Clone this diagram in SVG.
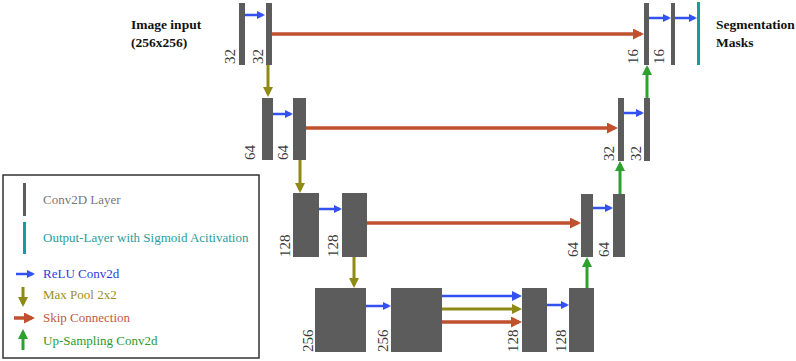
<svg xmlns="http://www.w3.org/2000/svg" width="796" height="361" viewBox="0 0 796 361">
<style>
.bar{fill:#5c5c5c}
.teal{fill:#159c9c}
.num{font-family:"Liberation Serif",serif;font-size:15px;fill:#3a3a3a}
.title{font-family:"Liberation Serif",serif;font-size:13.5px;font-weight:bold;fill:#111}
.leg{font-family:"Liberation Serif",serif;font-size:13px}
.c-blue{stroke:#3350f0;stroke-width:2.5;fill:none}
.c-olive{stroke:#8f8a14;stroke-width:3;fill:none}
.c-red{stroke:#c0502e;stroke-width:3.5;fill:none}
.c-green{stroke:#2ea02e;stroke-width:3;fill:none}
</style>
<defs>
<marker id="mb" viewBox="0 0 8 8" refX="6" refY="4" markerWidth="8" markerHeight="8" markerUnits="userSpaceOnUse" orient="auto"><path d="M0,0L8,4L0,8z" fill="#3350f0"/></marker>
<marker id="mbL" viewBox="0 0 10 10" refX="7" refY="5" markerWidth="10" markerHeight="10" markerUnits="userSpaceOnUse" orient="auto"><path d="M0,0L10,5L0,10z" fill="#3350f0"/></marker>
<marker id="mo" viewBox="0 0 10 10" refX="7" refY="5" markerWidth="10" markerHeight="10" markerUnits="userSpaceOnUse" orient="auto"><path d="M0,0L10,5L0,10z" fill="#8f8a14"/></marker>
<marker id="mr" viewBox="0 0 11 11" refX="8" refY="5.5" markerWidth="11" markerHeight="11" markerUnits="userSpaceOnUse" orient="auto"><path d="M0,0L11,5.5L0,11z" fill="#c0502e"/></marker>
<marker id="mg" viewBox="0 0 10 10" refX="7" refY="5" markerWidth="10" markerHeight="10" markerUnits="userSpaceOnUse" orient="auto"><path d="M0,0L10,5L0,10z" fill="#2ea02e"/></marker>
</defs>
<rect width="796" height="361" fill="#fff"/>

<g id="titles">
<text class="title" x="131" y="29">Image input</text>
<text class="title" x="131" y="47">(256x256)</text>
<text class="title" x="716" y="29">Segmentation</text>
<text class="title" x="716" y="47">Masks</text>
</g>

<g id="enc1">
<rect class="bar" x="239" y="3" width="6" height="62"/>
<rect class="bar" x="266" y="3" width="6" height="62"/>
<text class="num" transform="translate(235,64) rotate(-90)">32</text>
<text class="num" transform="translate(263,64) rotate(-90)">32</text>
</g>
<g id="dec1">
<rect class="bar" x="644" y="3" width="5" height="62"/>
<rect class="bar" x="671" y="3" width="4" height="62"/>
<rect class="teal" x="697" y="2" width="3" height="63"/>
<text class="num" transform="translate(638,64) rotate(-90)">16</text>
<text class="num" transform="translate(664,64) rotate(-90)">16</text>
</g>
<g id="enc2">
<rect class="bar" x="262" y="98" width="11" height="62"/>
<rect class="bar" x="293" y="98" width="13" height="62"/>
<text class="num" transform="translate(255,160) rotate(-90)">64</text>
<text class="num" transform="translate(288,160) rotate(-90)">64</text>
</g>
<g id="dec2">
<rect class="bar" x="618" y="98" width="6" height="63"/>
<rect class="bar" x="644" y="98" width="6" height="63"/>
<text class="num" transform="translate(614,161) rotate(-90)">32</text>
<text class="num" transform="translate(641,161) rotate(-90)">32</text>
</g>
<g id="enc3">
<rect class="bar" x="293" y="193" width="26" height="64"/>
<rect class="bar" x="342" y="193" width="25" height="64"/>
<text class="num" transform="translate(290,257) rotate(-90)">128</text>
<text class="num" transform="translate(338,257) rotate(-90)">128</text>
</g>
<g id="dec3">
<rect class="bar" x="581" y="194" width="12" height="63"/>
<rect class="bar" x="613" y="194" width="12" height="63"/>
<text class="num" transform="translate(578,257) rotate(-90)">64</text>
<text class="num" transform="translate(609,257) rotate(-90)">64</text>
</g>
<g id="bottleneck">
<rect class="bar" x="315" y="288" width="51" height="64"/>
<rect class="bar" x="391" y="288" width="51" height="64"/>
<text class="num" transform="translate(313,352) rotate(-90)">256</text>
<text class="num" transform="translate(388,352) rotate(-90)">256</text>
</g>
<g id="dec4">
<rect class="bar" x="522" y="288" width="25" height="64"/>
<rect class="bar" x="569" y="288" width="25" height="64"/>
<text class="num" transform="translate(518,352) rotate(-90)">128</text>
<text class="num" transform="translate(566,352) rotate(-90)">128</text>
</g>

<g id="connectors">
<line class="c-blue" x1="245" y1="15" x2="263" y2="15" marker-end="url(#mb)"/>
<line class="c-blue" x1="649" y1="18" x2="669" y2="18" marker-end="url(#mb)"/>
<line class="c-blue" x1="675" y1="18" x2="695" y2="18" marker-end="url(#mb)"/>
<line class="c-blue" x1="273" y1="114" x2="291" y2="114" marker-end="url(#mb)"/>
<line class="c-blue" x1="624" y1="113" x2="642" y2="113" marker-end="url(#mb)"/>
<line class="c-blue" x1="319" y1="209" x2="340" y2="209" marker-end="url(#mb)"/>
<line class="c-blue" x1="593" y1="208" x2="611" y2="208" marker-end="url(#mb)"/>
<line class="c-blue" x1="366" y1="306" x2="389" y2="306" marker-end="url(#mb)"/>
<line class="c-blue" x1="547" y1="305" x2="567" y2="305" marker-end="url(#mb)"/>
<line class="c-blue" x1="442" y1="296" x2="519" y2="296" marker-end="url(#mbL)"/>
<line class="c-olive" x1="442" y1="309" x2="519" y2="309" marker-end="url(#mo)"/>
<line class="c-red" x1="442" y1="322" x2="519" y2="322" marker-end="url(#mr)"/>
<line class="c-red" x1="272" y1="34" x2="641" y2="34" marker-end="url(#mr)"/>
<line class="c-red" x1="306" y1="128" x2="615" y2="128" marker-end="url(#mr)"/>
<line class="c-red" x1="367" y1="223" x2="578" y2="223" marker-end="url(#mr)"/>
<line class="c-olive" x1="268" y1="65" x2="268" y2="94" marker-end="url(#mo)"/>
<line class="c-olive" x1="300" y1="160" x2="300" y2="190" marker-end="url(#mo)"/>
<line class="c-olive" x1="354" y1="257" x2="354" y2="285" marker-end="url(#mo)"/>
<line class="c-green" x1="587" y1="288" x2="587" y2="260" marker-end="url(#mg)"/>
<line class="c-green" x1="620" y1="194" x2="620" y2="164" marker-end="url(#mg)"/>
<line class="c-green" x1="647" y1="98" x2="647" y2="68" marker-end="url(#mg)"/>
</g>

<g id="legend">
<rect x="3" y="175" width="256" height="183" fill="#fff" stroke="#333" stroke-width="1.5"/>
<rect class="bar" x="23" y="183" width="3" height="33"/>
<text class="leg" x="43" y="204" fill="#777">Conv2D Layer</text>
<rect class="teal" x="23" y="222" width="3" height="32"/>
<text class="leg" x="43" y="242" fill="#2a9d9d">Output-Layer with Sigmoid Acitivation</text>
<line class="c-blue" x1="16" y1="274" x2="33" y2="274" marker-end="url(#mb)"/>
<text class="leg" x="43" y="278" fill="#2b3de0">ReLU Conv2d</text>
<line class="c-olive" x1="23" y1="287" x2="23" y2="304" marker-end="url(#mo)"/>
<text class="leg" x="43" y="299" fill="#9a8f1c">Max Pool 2x2</text>
<line class="c-red" x1="14" y1="318" x2="32" y2="318" marker-end="url(#mr)"/>
<text class="leg" x="43" y="322" fill="#c05a40">Skip Connection</text>
<line class="c-green" x1="23" y1="350" x2="23" y2="332" marker-end="url(#mg)"/>
<text class="leg" x="43" y="345" fill="#2b9b2b">Up-Sampling Conv2d</text>
</g>
</svg>
